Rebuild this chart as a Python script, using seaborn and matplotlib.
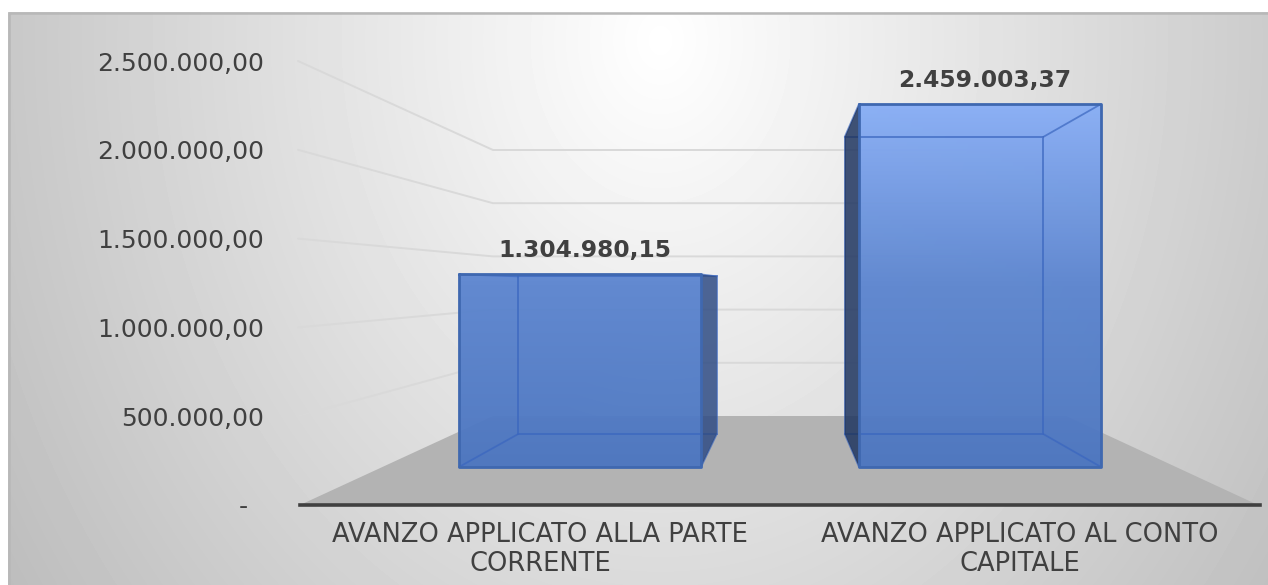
import matplotlib.pyplot as plt
import matplotlib.colors as mcolors
from matplotlib.patches import Polygon
import seaborn as sns
import numpy as np

categorie = ["AVANZO APPLICATO ALLA PARTE\nCORRENTE", "AVANZO APPLICATO AL CONTO\nCAPITALE"]
valori = [1304980.15, 2459003.37]
tick_valori = [0, 500000, 1000000, 1500000, 2000000, 2500000]

W, H = 1268, 585
TESTO = "#404040"
BORDO = "#3f68b0"
SPIGOLO = "#3a66bf"


def formato_it(v):
    return f"{v:,.2f}".replace(",", "#").replace(".", ",").replace("#", ".")


def crea_asse(x0, x1, y_top, y_bottom, zorder):
    # asse posizionato in pixel dell'immagine
    a = fig.add_axes([x0 / W, 1 - y_bottom / H, (x1 - x0) / W, (y_bottom - y_top) / H], zorder=zorder)
    a.patch.set_alpha(0)
    return a


def disegna_barre(a, centro, passo, larghezza, px_per_unita, y_top, y_bottom, x0=300, x1=1260, **kw):
    sns.barplot(x=categorie, y=valori, ax=a, width=larghezza / passo, **kw)
    a.set_xlim((x0 - centro) / passo, (x1 - centro) / passo)
    a.set_ylim(0, (y_bottom - y_top) / px_per_unita)
    a.axis("off")


sns.set_theme(style="white")
plt.rcParams['font.family'] = ['DejaVu Sans']

fig = plt.figure(figsize=(W / 100, H / 100), dpi=100, facecolor="white")

# sfondo in coordinate pixel
ax_bg = fig.add_axes([0, 0, 1, 1], zorder=0)
ax_bg.set_xlim(0, W)
ax_bg.set_ylim(H, 0)
ax_bg.axis("off")
xx, yy = np.meshgrid(np.arange(8, W), np.arange(12, H))
r = np.sqrt(((xx - 660) / 640) ** 2 + ((yy - 40) / 800) ** 2)
ax_bg.imshow(255 - 54 * r, cmap="gray", vmin=0, vmax=255, extent=(8, W, H, 12), aspect="auto", zorder=0)
ax_bg.set_xlim(0, W)
ax_bg.set_ylim(H, 0)
ax_bg.plot([9, 9, W], [H, 12.5, 12.5], color="#b8b8b8", lw=1.8, zorder=1)

# pavimento
ax_bg.add_patch(Polygon([(300, 505), (493, 416), (1066, 416), (1258, 505)], color="#b3b3b3", lw=0, zorder=2))

# griglia: parete laterale e parete di fondo
for v in tick_valori[1:]:
    y_front = 505 - 1.776e-4 * v
    y_back = 416 - 1.064e-4 * v
    ax_bg.plot([298, 493, 1066], [y_front, y_back, y_back], color="#d9d9d9", lw=1.4, zorder=1.5)

# asse con le etichette
ax = crea_asse(300, 1260, 61, 505, 5)
ax.set_xlim(-0.5, 1.5)
ax.set_ylim(0, 2500000)
ax.set_yticks(tick_valori)
ax.set_yticklabels(["-\u00a0\u00a0"] + [formato_it(v) for v in tick_valori[1:]], fontsize=18, color=TESTO)
ax.set_xticks([0, 1])
ax.set_xticklabels(categorie, fontsize=18.5, color=TESTO, linespacing=1.12)
ax.tick_params(axis="y", length=0, pad=26)
ax.tick_params(axis="x", length=0, pad=12.5)
sns.despine(ax=ax, left=True, top=True, right=True)
ax.spines["bottom"].set_color(TESTO)
ax.spines["bottom"].set_linewidth(2.6)

# faccia frontale delle barre
ax_front = crea_asse(300, 1260, 60, 467, 2)
disegna_barre(ax_front, 580, 400, 242, 1.476e-4, 60, 467, color="#5b84cf")

# sfumatura verticale dentro le barre
sfumatura = mcolors.LinearSegmentedColormap.from_list("blu", ["#4c76c0", "#5c85cf", "#88aef6"])
grad = np.linspace(1, 0, 256).reshape(-1, 1)
limiti = (*ax_front.get_xlim(), 0, max(valori))
for patch in ax_front.patches:
    patch.set_alpha(0)
    img = ax_front.imshow(grad, cmap=sfumatura, extent=limiti, aspect="auto", alpha=0.96, zorder=1)
    img.set_clip_path(patch)
ax_front.set_xlim(limiti[0], limiti[1])
ax_front.set_ylim(0, 407 / 1.476e-4)

# faccia di fondo, solo contorno
ax_back = crea_asse(300, 1260, 60, 434, 3)
disegna_barre(ax_back, 617.5, 326.5, 198.5, 1.208e-4, 60, 434, fill=False, edgecolor=SPIGOLO, linewidth=1.4, alpha=0.7, clip_on=False)

fig.canvas.draw()


def angoli(a, patch):
    # angoli del rettangolo in pixel dell'immagine: sx, dx, alto, basso
    b = patch.get_bbox()
    p = ax_bg.transData.inverted().transform(a.transData.transform([(b.x0, b.y0), (b.x1, b.y1)]))
    return p[0][0], p[1][0], p[1][1], p[0][1]


lati_scuri = ["#2f4c84", "#1f3560"]
for i, (f, b) in enumerate(zip(ax_front.patches, ax_back.patches)):
    b.set_clip_on(False)
    fx0, fx1, ftop, fbot = angoli(ax_front, f)
    bx0, bx1, btop, bbot = angoli(ax_back, b)
    # spigolo esterno della barra: a destra la prima, a sinistra la seconda
    if i == 0:
        lato = [(fx1, ftop), (bx1, btop), (bx1, bbot), (fx1, fbot)]
    else:
        lato = [(fx0, ftop), (bx0, btop), (bx0, bbot), (fx0, fbot)]
    ax_back.add_patch(Polygon(lato, closed=True, facecolor=lati_scuri[i], alpha=0.85, edgecolor="none",
                              transform=ax_bg.transData, clip_on=False, zorder=4))
    # spigoli in prospettiva
    for px, py, qx, qy in [(fx0, ftop, bx0, btop), (fx1, ftop, bx1, btop), (fx0, fbot, bx0, bbot), (fx1, fbot, bx1, bbot)]:
        ax_back.plot([px, qx], [py, qy], color=SPIGOLO, alpha=0.7, lw=1.3, transform=ax_bg.transData, clip_on=False, zorder=3)
    # contorno frontale
    ax_back.plot([fx0, fx1, fx1, fx0, fx0], [ftop, ftop, fbot, fbot, ftop], color=BORDO, lw=2,
                 transform=ax_bg.transData, clip_on=False, zorder=5)

# etichette dei valori
for patch, v in zip(ax_front.patches, valori):
    ax_front.annotate(formato_it(v), (patch.get_x() + patch.get_width() / 2, v), xytext=(3.6, 17),
                      textcoords="offset points", ha="center", va="center",
                      fontsize=16.8, fontweight="bold", color=TESTO, annotation_clip=False)

fig.savefig("out.png", dpi=100, facecolor="white")
plt.close(fig)
